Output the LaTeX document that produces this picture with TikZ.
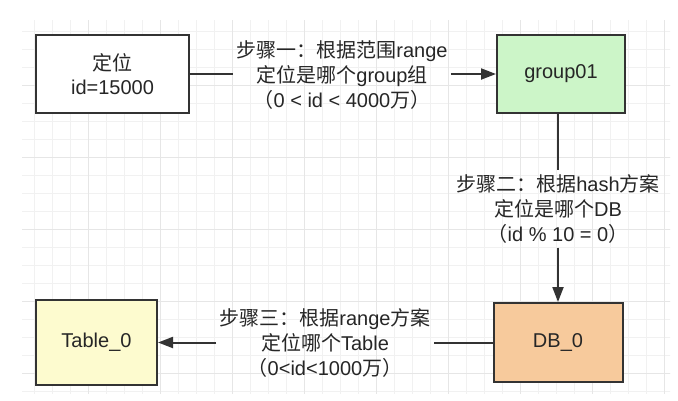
\documentclass[tikz,border=0pt]{standalone}
\usepackage{fontspec}
\setmainfont{Liberation Sans}
\newfontfamily\cjk{Noto Sans CJK SC}
\usetikzlibrary{arrows.meta}
\definecolor{edge}{HTML}{333333}
\definecolor{gfill}{HTML}{CCF5C8}
\definecolor{ofill}{HTML}{F7CA9C}
\definecolor{yfill}{HTML}{FDFBCF}
\definecolor{gridminor}{HTML}{F1F1F1}
\definecolor{gridmajor}{HTML}{E6E6E6}
\newcommand{\zh}[1]{{\cjk #1}}
\tikzset{
  box/.style={draw=edge, line width=2pt, align=center, inner sep=0pt,
    font=\fontsize{20pt}{24pt}\selectfont, text=black!85},
  lab/.style={align=center, inner xsep=3pt, inner ysep=1pt,
    font=\fontsize{20pt}{25pt}\selectfont, text=black!85},
  conn/.style={draw=edge, line width=2pt},
  arr/.style={conn, -{Triangle[length=15pt,width=11pt]}}
}
\begin{document}
\begin{tikzpicture}[x=1pt,y=-1pt]
\useasboundingbox (0,0) rectangle (678,400);
\fill[white] (0,0) rectangle (678,400);
% grid
\begin{scope}
\clip (22,20) rectangle (670,393);
\foreach \i in {0,...,40} {
  \draw[gridminor, line width=0.8pt] ({16+18*\i},0) -- ({16+18*\i},400);
  \draw[gridminor, line width=0.8pt] (0,{13+18*\i}) -- (678,{13+18*\i});
}
\foreach \i in {0,...,10} {
  \draw[gridmajor, line width=1pt] ({16+72*\i},0) -- ({16+72*\i},400);
  \draw[gridmajor, line width=1pt] (0,{13+72*\i}) -- (678,{13+72*\i});
}
\end{scope}
% boxes
\node[box, fill=white, minimum width=153pt, minimum height=78pt] (loc) at (112.5,74) {\zh{定位}\\id=15000};
\node[box, fill=gfill, minimum width=128pt, minimum height=78pt] (g01) at (561,74) {group01};
\node[box, fill=ofill, minimum width=129pt, minimum height=79pt] (db) at (558,342.5) {DB\_0};
\node[box, fill=yfill, minimum width=121pt, minimum height=85pt] (tb) at (96.5,342.5) {Table\_0};
% labels
\node[lab] (l1) at (342,75) {\zh{步骤一：根据范围}range\\\zh{定位是哪个}group\zh{组}\\\zh{（}0 < id < 4000\zh{万）}};
\node[lab, inner ysep=4pt] (l2) at (558,209) {\zh{步骤二：根据}hash\zh{方案}\\\zh{定位是哪个}DB\\\zh{（}id \% 10 = 0\zh{）}};
\node[lab] (l3) at (325,343) {\zh{步骤三：根据}range\zh{方案}\\\zh{定位哪个}Table\\\zh{（}0<id<1000\zh{万）}};
% connectors
\draw[conn] (loc.east) -- (l1.west |- loc.east);
\draw[arr] (l1.east |- g01.west) -- (g01.west);
\draw[conn] (g01.south -| db.north) -- (l2.north -| db.north);
\draw[arr] (l2.south -| db.north) -- (db.north);
\draw[conn] (db.west) -- (l3.east |- db.west);
\draw[arr] (l3.west |- tb.east) -- (tb.east);
\end{tikzpicture}
\end{document}
